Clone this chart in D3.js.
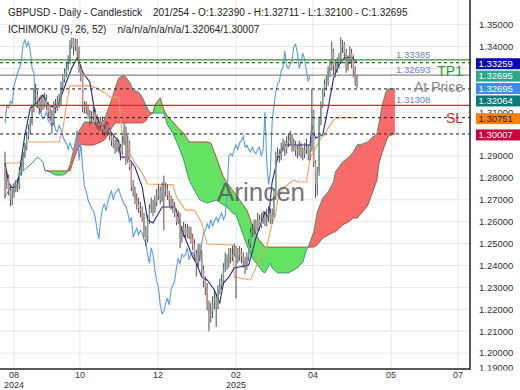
<!DOCTYPE html>
<html><head><meta charset="utf-8">
<script src="https://cdn.jsdelivr.net/npm/d3@7"></script>
<style>
body{margin:0;background:#fff}
svg{display:block}
text{font-family:"Liberation Sans",Arial,sans-serif}
</style>
</head><body>
<svg id="c" width="520" height="390"></svg>
<script>
// ---------- DATA (prices in pips above 1.0000, i.e. 2790 = 1.2790) ----------
const opens = [2850,2790,2800,2740,2700,2730,2750,2770,2760,2830,2850,2900,2940,2990,3020,3050,3110,3180,3180,3150,3120,3150,3140,3160,3130,3100,3090,3050,3130,3120,3150,3140,3220,3250,3280,3300,3330,3410,3430,3400,3420,3380,3300,3280,3130,3120,3120,3090,3070,3080,3100,3060,3050,3040,3060,3020,3010,3040,3020,2990,2970,2960,2930,2960,2940,2920,2960,3020,2880,2960,2850,2760,2740,2700,2680,2660,2650,2620,2560,2520,2610,2660,2680,2650,2690,2720,2740,2700,2730,2740,2750,2720,2700,2680,2670,2640,2600,2620,2530,2550,2570,2540,2560,2550,2520,2500,2450,2410,2480,2450,2380,2330,2300,2220,2180,2190,2230,2250,2220,2290,2310,2330,2390,2430,2410,2450,2440,2450,2480,2430,2450,2460,2440,2420,2400,2440,2500,2550,2560,2590,2570,2610,2580,2600,2620,2600,2620,2640,2610,2630,2720,2900,2910,2900,2930,2950,2930,2960,2970,2990,2940,2950,2930,2920,2940,2920,2910,2930,2940,2900,2930,3100,2870,2770,2830,3060,3130,3190,3230,3240,3290,3300,3380,3310,3300,3320,3330,3400,3410,3370,3300,3330,3370,3340,3290,3239];
const highs = [2920,2830,2815,2760,2750,2775,2790,2800,2850,2870,2920,2960,3010,3045,3070,3135,3210,3230,3200,3170,3180,3175,3190,3180,3145,3125,3110,3150,3160,3175,3185,3240,3275,3300,3330,3360,3430,3440,3440,3435,3435,3400,3320,3290,3150,3150,3135,3110,3105,3125,3115,3090,3075,3080,3075,3045,3060,3055,3030,3010,2995,2975,2985,2975,2955,2990,3050,3035,2995,2970,2865,2790,2760,2730,2710,2690,2670,2640,2580,2630,2680,2710,2700,2720,2750,2770,2760,2780,2810,2780,2770,2740,2720,2705,2690,2660,2650,2640,2580,2600,2590,2590,2580,2575,2545,2520,2470,2500,2500,2470,2400,2350,2320,2240,2230,2260,2290,2270,2310,2340,2360,2410,2460,2450,2480,2480,2490,2500,2490,2480,2490,2480,2460,2440,2460,2520,2570,2590,2610,2610,2640,2630,2640,2650,2640,2660,2670,2660,2660,2740,2920,2940,2930,2960,2980,2970,2990,3000,3015,3000,2980,2970,2950,2970,2960,2940,2960,2980,2950,2950,3207,3110,2880,2850,3080,3150,3210,3250,3270,3310,3340,3423,3390,3340,3350,3370,3443,3430,3420,3390,3360,3400,3390,3360,3310,3271.1];
const lows = [2705,2750,2720,2670,2675,2710,2735,2735,2750,2810,2835,2890,2925,2975,3000,3040,3100,3150,3120,3090,3100,3110,3120,3110,3075,3060,3002,3040,3095,3105,3120,3130,3200,3235,3260,3290,3320,3390,3360,3380,3340,3280,3240,3100,3095,3090,3070,3040,3050,3060,3040,3025,3015,3020,2995,2990,2995,2995,2970,2945,2935,2910,2920,2915,2880,2905,2950,2860,2870,2835,2740,2715,2680,2655,2640,2620,2600,2530,2487,2505,2590,2640,2625,2640,2670,2700,2680,2690,2560,2715,2700,2670,2655,2640,2620,2585,2590,2480,2505,2530,2520,2525,2520,2500,2470,2420,2350,2395,2420,2350,2300,2265,2195,2100,2140,2160,2200,2120,2200,2270,2290,2310,2370,2380,2390,2410,2420,2440,2249,2410,2420,2410,2390,2360,2380,2420,2480,2530,2540,2550,2560,2560,2570,2590,2580,2580,2600,2590,2590,2620,2700,2880,2870,2880,2920,2900,2910,2940,2950,2920,2920,2900,2890,2900,2890,2880,2890,2910,2880,2880,2920,2850,2709,2720,2810,3040,3120,3170,3200,3220,3260,3290,3270,3260,3280,3300,3320,3370,3340,3280,3290,3320,3300,3260,3220,3210];
const closes = [2790,2800,2740,2700,2730,2750,2770,2760,2830,2850,2900,2940,2990,3020,3050,3110,3180,3180,3150,3120,3150,3140,3160,3130,3100,3090,3050,3130,3120,3150,3140,3220,3250,3280,3300,3330,3410,3430,3400,3420,3380,3300,3280,3130,3120,3120,3090,3070,3080,3100,3060,3050,3040,3060,3020,3010,3040,3020,2990,2970,2960,2930,2960,2940,2920,2960,3020,2880,2960,2850,2760,2740,2700,2680,2660,2650,2620,2560,2520,2610,2660,2680,2650,2690,2720,2740,2700,2730,2740,2750,2720,2700,2680,2670,2640,2600,2620,2530,2550,2570,2540,2560,2550,2520,2500,2450,2410,2480,2450,2380,2330,2300,2220,2180,2190,2230,2250,2220,2290,2310,2330,2390,2430,2410,2450,2440,2450,2480,2430,2450,2460,2440,2420,2400,2440,2500,2550,2560,2590,2570,2610,2580,2600,2620,2600,2620,2640,2610,2630,2720,2900,2910,2900,2930,2950,2930,2960,2970,2990,2940,2950,2930,2920,2940,2920,2910,2930,2940,2900,2930,3100,2870,2770,2830,3060,3130,3190,3230,3240,3290,3300,3380,3310,3300,3320,3330,3400,3410,3370,3300,3330,3370,3340,3290,3240,3269.5];

const tenkanSlots = [0,2,4,7,8,11,14,18,21,24,28,30,34,37,40,43,44,47,50,53,57,60,63,64,68,72,76,79,82,87,94,96,98,104,106,109,112,116,119,121,124,127,135,139,144,146,148,151,155,169,170,172,176,179,182,185,188,192,195];
const tenkanVals  = [2868,2777,2754,2768,2827,2996,3119,3147,3179,3133,3119,3147,3238,3302,3347,3284,3270,3238,3087,3042,3028,2996,2964,2895,2895,2850,2758,2608,2594,2667,2667,2621,2562,2439,2411,2347,2334,2288,2229,2320,2347,2389,2402,2526,2644,2617,2781,2891,2950,2950,3042,2982,2996,3119,3256,3316,3347,3352,3325.9];

const kijunSlots = [0,8,10,12,30,32,34,36,47,51,57,58,63,65,68,72,76,79,93,95,100,105,109,112,126,127,136,140,142,145,148,150,151,154,160,163,167,169,171,173,175,177,180,183,195];
const kijunVals  = [2868,2868,2895,2964,2964,3019,3133,3220,3220,3210,3179,3169,3169,2987,2927,2868,2822,2772,2768,2713,2653,2653,2594,2498,2494,2347,2334,2411,2462,2484,2594,2631,2699,2754,2790,2781,2781,2891,2918,2950,2982,2996,3042,3074,3075.1];

const spanAEarlySlots = [0,3,7,9,12,15,18,21,22];
const spanAEarlyVals  = [2713,2758,2790,2827,2845,2868,2895,2873,2836];

const cloudSlots = [22,25,28,32,34,36,38,40,42,44,49,53,55,57,59,61,63,66,69,71,74,76,78,80,82,83,86,88,90,93,97,99,102,104,108,112,114,117,121,123,126,128,130,134,137,140,143,144,147,148,151,157,162,165,167,168,171,173,176,179,182,183,187,190,193,195,198,201,203,206,207,209,211,212,214,216];
const spanAVals  = [2836,2827,2813,2813,2822,2859,2927,2996,3028,3055,3055,3051,3064,3110,3156,3210,3256,3270,3238,3201,3192,3169,3133,3101,3096,3096,3096,3096,3042,3005,2927,2882,2790,2758,2699,2685,2690,2699,2676,2667,2640,2631,2585,2494,2434,2402,2370,2366,2411,2389,2366,2366,2389,2416,2471,2484,2553,2644,2708,2736,2781,2827,2873,2891,2918,2950,2955,2964,2982,3000,3042,3133,3192,3206,3206,3206.4];
const spanBVals  = [2832,2832,2832,2832,2832,2832,2882,2927,2955,2950,2950,2964,2973,2996,3028,3051,3051,3051,3051,3051,3051,3051,3060,3087,3096,3133,3165,3110,3083,3055,3019,3005,2964,2964,2964,2964,2959,2895,2804,2777,2745,2722,2699,2653,2585,2526,2494,2484,2484,2484,2484,2484,2484,2484,2484,2484,2484,2494,2526,2539,2553,2553,2585,2598,2617,2617,2644,2676,2722,2790,2864,2918,2964,2987,2996,3000.7];

const chikouShift = 26;

const priceTicks = [1.19,1.20,1.21,1.22,1.23,1.24,1.25,1.26,1.27,1.28,1.29,1.30,1.31,1.32,1.33,1.34,1.35];
const monthTickSlots = [5,41.5,84.8,128,170.6,213.9,251];
const monthTickLabels = ["08","10","12","02","04","05","07"];
const yearTickLabels  = ["2024","","","2025","","",""];

const refLevels = [1.33385,1.32693,1.31308];
const refNames  = ["TP1","At Price","SL"];
const refLabels = ["1.33385","1.32693","1.31308"];
const dashedLevels = [1.33259,1.32064,1.30751,1.30007];
const tagValues = [1.33259,1.32695,1.32695,1.32064,1.30751,1.30007];

const titleLine1 = "GBPUSD - Daily - Candlestick    201/254 - O:1.32390 - H:1.32711 - L:1.32100 - C:1.32695";
const titleLine2 = "ICHIMOKU (9, 26, 52)    n/a/n/a/n/a/n/a/1.32064/1.30007";
const watermark = "Arincen";

// ---------- STYLES ----------
const refColors = ["#2b9a2b","#8a8a8a","#c83030"];
const refNameDy = [16,17,17.6];
const tagFill = ["#0a0ab4","#2ea68a","#3b8ee8","#0c7b78","#ff8000","#c8003c"];
const tagText = ["#fff","#fff","#fff","#fff","#222","#fff"];

// ---------- CHART ----------
const P = p => 1 + p/10000;
const svg = d3.select("#c");
const plotR = 470, plotB = 369;
const x = d3.scaleLinear().domain([0,195]).range([5,357]);
const y = d3.scaleLinear().domain([1.20,1.35]).range([353.1,24.6]);

const defs = svg.append("defs");
defs.append("clipPath").attr("id","pc").append("rect").attr("x",0).attr("y",0).attr("width",plotR).attr("height",plotB);
defs.append("clipPath").attr("id","ac").append("rect").attr("x",plotR).attr("y",0).attr("width",60).attr("height",plotB+1.5);

const g = svg.append("g").attr("clip-path","url(#pc)");

// grid
g.append("g").selectAll("line").data(priceTicks.filter(v=>y(v)<plotB)).join("line")
  .attr("x1",0).attr("x2",plotR).attr("y1",d=>y(d)).attr("y2",d=>y(d))
  .attr("stroke","#e6e6e6").attr("stroke-width",1);
g.append("g").selectAll("line").data(monthTickSlots).join("line")
  .attr("x1",d=>x(d)).attr("x2",d=>x(d)).attr("y1",0).attr("y2",plotB)
  .attr("stroke","#e6e6e6").attr("stroke-width",1);

// cloud
const cloud = cloudSlots.map((s,i)=>({s, a:P(spanAVals[i]), b:P(spanBVals[i])}));
const cpts = [];
for (let i=0;i<cloud.length;i++){
  if (i>0){
    const p=cloud[i-1], q=cloud[i];
    const d0=p.a-p.b, d1=q.a-q.b;
    if (d0*d1<0){
      const t=d0/(d0-d1);
      const s=p.s+t*(q.s-p.s), v=p.b+t*(q.b-p.b);
      cpts.push({s,a:v,b:v});
    }
  }
  cpts.push(cloud[i]);
}
g.append("path").datum(cpts)
  .attr("d", d3.area().x(d=>x(d.s)).y0(d=>y(d.b)).y1(d=>y(Math.max(d.a,d.b))))
  .attr("fill","#f96b6b");
g.append("path").datum(cpts)
  .attr("d", d3.area().x(d=>x(d.s)).y0(d=>y(d.b)).y1(d=>y(Math.min(d.a,d.b))))
  .attr("fill","#63e263");

const line = d3.line().x(d=>x(d.s)).y(d=>y(d.v));
const spanA = spanAEarlySlots.map((s,i)=>({s,v:P(spanAEarlyVals[i])}))
  .concat(cloudSlots.slice(1).map((s,i)=>({s,v:P(spanAVals[i+1])})));
g.append("path").datum(spanA).attr("d",line).attr("fill","none").attr("stroke","#3a9a78").attr("stroke-width",1);
g.append("path").datum(cloudSlots.map((s,i)=>({s,v:P(spanBVals[i])}))).attr("d",line)
  .attr("fill","none").attr("stroke","#b0503c").attr("stroke-width",1);

// chikou
const chikou = closes.slice(chikouShift).map((c,i)=>({s:i, v:P(c)}));
g.append("path").datum(chikou).attr("d",line).attr("fill","none").attr("stroke","#5a9ee0").attr("stroke-width",1.1);

// kijun, tenkan
g.append("path").datum(kijunSlots.map((s,i)=>({s,v:P(kijunVals[i])}))).attr("d",line)
  .attr("fill","none").attr("stroke","#f2a060").attr("stroke-width",1.1);
g.append("path").datum(tenkanSlots.map((s,i)=>({s,v:P(tenkanVals[i])}))).attr("d",line)
  .attr("fill","none").attr("stroke","#24249a").attr("stroke-width",1.1);

// candles
const candles = closes.map((c,i)=>({i,o:P(opens[i]),h:P(highs[i]),l:P(lows[i]),c:P(c)}));
const cg = g.append("g");
cg.selectAll("line").data(candles).join("line")
  .attr("x1",d=>x(d.i)).attr("x2",d=>x(d.i)).attr("y1",d=>y(d.h)).attr("y2",d=>y(d.l))
  .attr("stroke","#3c3c3c").attr("stroke-width",0.9);
cg.selectAll("rect").data(candles).join("rect")
  .attr("x",d=>x(d.i)-0.7).attr("width",1.4)
  .attr("y",d=>y(Math.max(d.o,d.c)))
  .attr("height",d=>Math.max(1,Math.abs(y(d.o)-y(d.c))))
  .attr("fill",d=>d.c>=d.o?"#6aa596":"#d08a8a");

// reference lines
g.append("g").selectAll("line").data(dashedLevels).join("line")
  .attr("x1",0).attr("x2",plotR).attr("y1",d=>y(d)).attr("y2",d=>y(d))
  .attr("stroke","#222").attr("stroke-width",1).attr("stroke-dasharray","3,3");
g.append("g").selectAll("line").data(refLevels).join("line")
  .attr("x1",0).attr("x2",plotR).attr("y1",d=>y(d)).attr("y2",d=>y(d))
  .attr("stroke",(d,i)=>refColors[i]).attr("stroke-width",1.2);
g.append("g").selectAll("text").data(refLabels).join("text")
  .attr("x",396).attr("y",(d,i)=>y(refLevels[i])-2)
  .attr("font-size",9.5).attr("fill","#6a86d0").text(d=>d);
g.append("g").selectAll("text").data(refNames).join("text")
  .attr("x",463).attr("y",(d,i)=>y(refLevels[i])+refNameDy[i])
  .attr("text-anchor","end").attr("font-size",14).attr("fill",(d,i)=>refColors[i]).text(d=>d);

// watermark
g.append("text").attr("x",261).attr("y",201).attr("text-anchor","middle")
  .attr("font-size",26).attr("fill","#555").attr("opacity",0.8).text(watermark);

// axes lines
svg.append("line").attr("x1",plotR).attr("x2",plotR).attr("y1",0).attr("y2",plotB+0.75).attr("stroke","#222").attr("stroke-width",1.5);
svg.append("line").attr("x1",0).attr("x2",plotR).attr("y1",plotB).attr("y2",plotB).attr("stroke","#222").attr("stroke-width",1.5);

// price tags positions (stacked so they do not overlap)
let prev = -100;
const tagPos = tagValues.map(v=>{ let c=Math.max(y(v)+1, prev+12.4); prev=c; return c; });
const tagBoxes = tagPos.map(c=>[c-5.5,c+5.5]);
function visiblePart(yc){
  let lo=yc-3.5, hi=yc+3.5, vis=0, cur=lo;
  const bs = tagBoxes.filter(b=>b[1]>lo && b[0]<hi).sort((a,b)=>a[0]-b[0]);
  for (const b of bs){ if (b[0]>cur) vis+=b[0]-cur; cur=Math.max(cur,b[1]); }
  if (cur<hi) vis+=hi-cur;
  return vis;
}

// right price labels (those fully hidden behind tags are not drawn)
const ag = svg.append("g").attr("clip-path","url(#ac)");
ag.selectAll("text").data(priceTicks.filter(v=>visiblePart(Math.min(y(v),367.5))>2.5)).join("text")
  .attr("x",479).attr("y",d=>Math.min(y(d),367.5)).attr("dy","0.35em")
  .attr("font-size",9.5).attr("fill","#333").text(d=>d.toFixed(5));

// price tags
const tg = svg.append("g");
tg.selectAll("rect").data(tagValues).join("rect")
  .attr("x",476).attr("width",46).attr("y",(d,i)=>tagBoxes[i][0]).attr("height",11)
  .attr("fill",(d,i)=>tagFill[i]);
tg.selectAll("text").data(tagValues).join("text")
  .attr("x",478.5).attr("y",(d,i)=>tagPos[i]).attr("dy","0.35em")
  .attr("font-size",9.5).attr("fill",(d,i)=>tagText[i]).text(d=>d.toFixed(5));

// x labels
svg.append("g").selectAll("text").data(monthTickLabels).join("text")
  .attr("x",(d,i)=>x(monthTickSlots[i])).attr("y",377.5).attr("text-anchor","middle")
  .attr("font-size",9).attr("fill","#333").text(d=>d);
svg.append("g").selectAll("text").data(yearTickLabels.filter(d=>d)).join("text")
  .attr("x",d=>x(monthTickSlots[yearTickLabels.indexOf(d)])).attr("y",388).attr("text-anchor","middle")
  .attr("font-size",9).attr("fill","#333").text(d=>d);

// titles
svg.append("text").attr("x",8).attr("y",16).attr("font-size",10).attr("fill","#222")
  .style("white-space","pre").text(titleLine1);
svg.append("text").attr("x",8).attr("y",33).attr("font-size",10).attr("fill","#222")
  .style("white-space","pre").text(titleLine2);
</script>
</body></html>
